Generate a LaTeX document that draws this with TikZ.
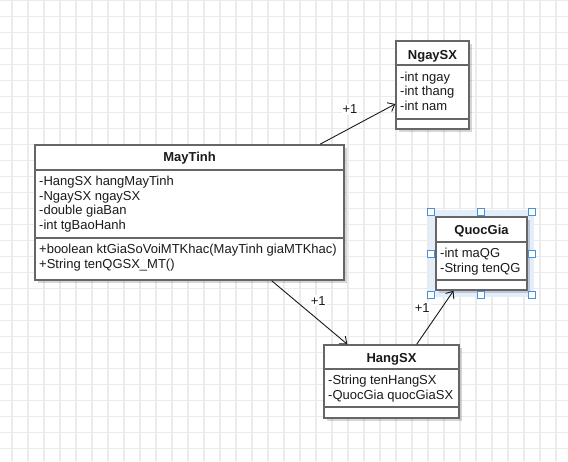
\documentclass[tikz,border=0pt]{standalone}
\usepackage{fontspec}
\setmainfont{Liberation Sans}
\usetikzlibrary{arrows.meta,shadows}
\definecolor{gridc}{HTML}{EBEBEB}
\definecolor{boxc}{HTML}{666666}
\definecolor{selc}{HTML}{4A90E2}
\definecolor{haloc}{HTML}{E3EEFB}
\definecolor{txtc}{HTML}{1A1A1A}
\tikzset{
  cls/.style={draw=boxc, line width=1.5pt, fill=white, inner sep=0pt,
    drop shadow={shadow xshift=3pt, shadow yshift=-3pt, opacity=0.16, fill=black}},
  sepline/.style={draw=boxc, line width=1.5pt},
  txt/.style={anchor=base west, inner sep=0pt, font=\fontsize{13}{14.5}\selectfont, text=txtc},
  ttl/.style={anchor=base, inner sep=0pt, font=\fontsize{13}{14.5}\selectfont\bfseries, text=txtc},
  mult/.style={inner sep=1pt, fill=white, font=\fontsize{13}{14.5}\selectfont, text=txtc},
  assoc/.style={draw=black!90, line width=0.9pt, -{Straight Barb[length=6pt,width=10pt]}},
  handle/.style={draw=selc, line width=1pt, fill=white, minimum size=7pt, inner sep=0pt}
}
\begin{document}
\begin{tikzpicture}[x=1pt,y=-1pt]
\useasboundingbox (0,0) rectangle (568,461);
\fill[white] (0,0) rectangle (568,461);
\foreach \x in {12,28,...,566} \draw[gridc,line width=1.4pt] (\x,0) -- (\x,461);
\foreach \y in {0.7,16.7,...,460} \draw[gridc,line width=1.4pt] (0,\y) -- (568,\y);

% selection halo for QuocGia
\fill[haloc] (429,210) rectangle (534,297);

% class boxes
\node[cls, minimum width=309pt, minimum height=135pt] (maytinh) at (189.5,212.5) {};
\node[cls, minimum width=73pt, minimum height=88pt] (ngaysx) at (432.5,85) {};
\node[cls, minimum width=91pt, minimum height=73pt] (quocgia) at (481.5,253.5) {};
\node[cls, minimum width=135pt, minimum height=73pt] (hangsx) at (391.5,381.5) {};

% compartment separators
\draw[sepline] (maytinh.west |- 0,170) -- (maytinh.east |- 0,170);
\draw[sepline] (maytinh.west |- 0,238) -- (maytinh.east |- 0,238);
\draw[sepline] (ngaysx.west |- 0,65) -- (ngaysx.east |- 0,65);
\draw[sepline] (ngaysx.west |- 0,119) -- (ngaysx.east |- 0,119);
\draw[sepline] (quocgia.west |- 0,242) -- (quocgia.east |- 0,242);
\draw[sepline] (quocgia.west |- 0,280) -- (quocgia.east |- 0,280);
\draw[sepline] (hangsx.west |- 0,369) -- (hangsx.east |- 0,369);
\draw[sepline] (hangsx.west |- 0,407) -- (hangsx.east |- 0,407);

% MayTinh texts
\node[ttl] (mtT) at (189.5,161) {MayTinh};
\node[txt] (mt1) at (39,185.7) {-HangSX hangMayTinh};
\node[txt] (mt2) at (39,200.2) {-NgaySX ngaySX};
\node[txt] (mt3) at (39,214.7) {-double giaBan};
\node[txt] (mt4) at (39,229.2) {-int tgBaoHanh};
\node[txt] (mt5) at (39,253.5) {+boolean ktGiaSoVoiMTKhac(MayTinh giaMTKhac)};
\node[txt] (mt6) at (39,268) {+String tenQGSX\_MT()};

% NgaySX texts
\node[ttl] (nsT) at (432.5,59) {NgaySX};
\node[txt] (ns1) at (400,81) {-int ngay};
\node[txt] (ns2) at (400,95.5) {-int thang};
\node[txt] (ns3) at (400,110) {-int nam};

% QuocGia texts
\node[ttl] (qgT) at (481.5,234.5) {QuocGia};
\node[txt] (qg1) at (440,257.5) {-int maQG};
\node[txt] (qg2) at (440,272.2) {-String tenQG};

% HangSX texts
\node[ttl] (hsT) at (391.5,362.7) {HangSX};
\node[txt] (hs1) at (328,384) {-String tenHangSX};
\node[txt] (hs2) at (328,399.7) {-QuocGia quocGiaSX};

% associations
\draw[assoc] ([xshift=130.5pt]maytinh.north) -- ([yshift=-19pt]ngaysx.west);
\draw[assoc] ([xshift=82.2pt]maytinh.south) -- ([xshift=-44.2pt]hangsx.north);
\draw[assoc] ([xshift=25.2pt]hangsx.north) -- ([xshift=-28pt]quocgia.south);
\node[mult] (l1) at (350,109.3) {+1};
\node[mult] (l2) at (318.3,300.7) {+1};
\node[mult] (l3) at (422.3,307.7) {+1};

% selection handles
\node[handle] (h1) at (431.3,212.3) {};
\node[handle] (h2) at (481,212.3) {};
\node[handle] (h3) at (531.7,212.3) {};
\node[handle] (h4) at (431.3,254) {};
\node[handle] (h5) at (531.7,254) {};
\node[handle] (h6) at (431.3,295.3) {};
\node[handle] (h7) at (481,295.3) {};
\node[handle] (h8) at (531.7,295.3) {};
\end{tikzpicture}
\end{document}
